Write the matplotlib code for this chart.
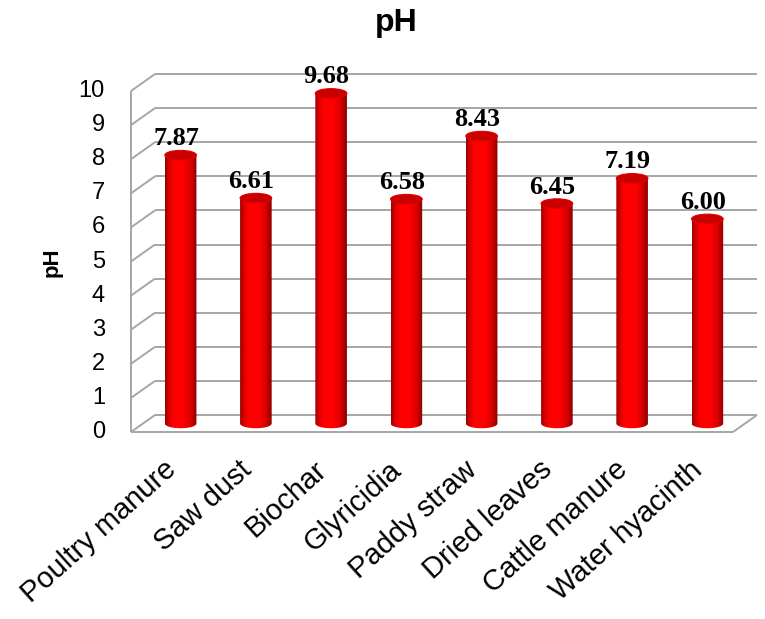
import numpy as np
import matplotlib
matplotlib.use("Agg")
import matplotlib.pyplot as plt
from matplotlib.colors import LinearSegmentedColormap
from matplotlib.patches import PathPatch, Ellipse
from matplotlib.path import Path
from matplotlib.transforms import ScaledTranslation

# Data
categories = ["Poultry manure", "Saw dust", "Biochar", "Glyricidia",
              "Paddy straw", "Dried leaves", "Cattle manure", "Water hyacinth"]
ph_values = [7.87, 6.61, 9.68, 6.58, 8.43, 6.45, 7.19, 6.00]
y_ticks = list(range(0, 11))

W, H, DPI = 765, 619, 100
fig = plt.figure(figsize=(W / DPI, H / DPI), dpi=DPI)

# Mid-depth plane of the pseudo-3D box (pixel geometry)
left_px, right_px = 143, 745
zero_px, ten_px = 423.5, 82.5
unit_px = (zero_px - ten_px) / 10.0
y_lo, y_hi = -0.6, 10
ax_bottom_px = zero_px - y_lo * unit_px
ax = fig.add_axes([left_px / W, (H - ax_bottom_px) / H,
                   (right_px - left_px) / W, (ax_bottom_px - ten_px) / H])
x0, x1 = -0.5, len(categories) - 0.5
ax.set_xlim(x0, x1)
ax.set_ylim(y_lo, y_hi)
ax.axis("off")

px = 1.0 / DPI
depth_dx, depth_dy = 12 * px, 8.5 * px
back = ax.transData + ScaledTranslation(depth_dx, depth_dy, fig.dpi_scale_trans)
front = ax.transData + ScaledTranslation(-depth_dx, -depth_dy, fig.dpi_scale_trans)

grid_kw = dict(color="#A6A6A6", lw=1.4, solid_capstyle="butt", zorder=1)

# Back wall gridlines and left side wall
for t in y_ticks:
    ax.plot([x0, x1], [t, t], transform=back, clip_on=False, **grid_kw)
    # diagonal on the side wall: front edge to back edge
    p_front = front.transform((x0, t))
    p_back = back.transform((x0, t))
    ax.plot([p_front[0], p_back[0]], [p_front[1], p_back[1]],
            transform=None, clip_on=False, **grid_kw)
# Front vertical edge of the side wall
ax.plot([x0, x0], [0, 10], transform=front, clip_on=False, **grid_kw)
# Floor: front edge and right edge
ax.plot([x0, x1], [0, 0], transform=front, clip_on=False, **grid_kw)
pf = front.transform((x1, 0))
pb = back.transform((x1, 0))
ax.plot([pf[0], pb[0]], [pf[1], pb[1]], transform=None, clip_on=False, **grid_kw)

# Tick labels on the front edge
tick_off = ax.transData + ScaledTranslation(-12 * px - 26 * px, -depth_dy, fig.dpi_scale_trans)
for t in y_ticks:
    ax.text(x0, t, str(t), transform=tick_off, ha="right", va="center",
            fontsize=17, family="Liberation Sans", color="black")

# Cylinders
cyl_cmap = LinearSegmentedColormap.from_list(
    "cyl", [(0.0, "#9A0000"), (0.12, "#D80000"), (0.28, "#FF0000"),
            (0.58, "#FF0000"), (0.8, "#DA0000"), (1.0, "#8C0000")])
bar_w = 0.42
ell_h = 9.5 / unit_px  # ellipse height in data units
grad = np.linspace(0, 1, 256).reshape(1, -1)

for i, v in enumerate(ph_values):
    xl, xr = i - bar_w / 2, i + bar_w / 2
    th = np.linspace(np.pi, 2 * np.pi, 60)
    arc = np.column_stack([i + bar_w / 2 * np.cos(th), ell_h / 2 * np.sin(th)])
    verts = np.vstack([[xl, v], [xl, 0], arc, [xr, 0], [xr, v], [xl, v]])
    codes = [Path.MOVETO] + [Path.LINETO] * (len(verts) - 2) + [Path.CLOSEPOLY]
    body = PathPatch(Path(verts, codes), facecolor="none", edgecolor="none", zorder=3)
    ax.add_patch(body)
    im = ax.imshow(grad, cmap=cyl_cmap, extent=[xl, xr, -ell_h, v + ell_h],
                   aspect="auto", zorder=3, interpolation="bilinear")
    im.set_clip_path(body)
    top = Ellipse((i, v), bar_w, ell_h, facecolor="#C80000",
                  edgecolor="#E00000", lw=0.8, zorder=4, clip_on=False)
    ax.add_patch(top)

ax.set_xlim(x0, x1)
ax.set_ylim(y_lo, y_hi)

# Value labels
val_off = ax.transData + ScaledTranslation(-4.5 * px, 10 * px, fig.dpi_scale_trans)
for i, v in enumerate(ph_values):
    ax.text(i, v, f"{v:.2f}", transform=val_off, ha="center", va="baseline",
            fontsize=19, fontweight="bold", family="Liberation Serif",
            color="black", zorder=5, clip_on=False)

# Category labels, rotated
cat_off = ax.transData + ScaledTranslation(-18 * px, -32 * px, fig.dpi_scale_trans)
for i, c in enumerate(categories):
    ax.text(i, 0, c, transform=cat_off, rotation=42, rotation_mode="anchor",
            ha="right", va="top", fontsize=21, family="Liberation Sans",
            color="black", clip_on=False)

# Title and axis title
fig.text(396 / W, 1 - 23 / H, "pH", ha="center", va="center",
         fontsize=23, fontweight="bold", family="Liberation Sans")
fig.text(52 / W, 1 - 262 / H, "pH", ha="center", va="center", rotation=90,
         fontsize=16, fontweight="bold", family="Liberation Sans")

fig.savefig("out.png", dpi=DPI, facecolor="white")
